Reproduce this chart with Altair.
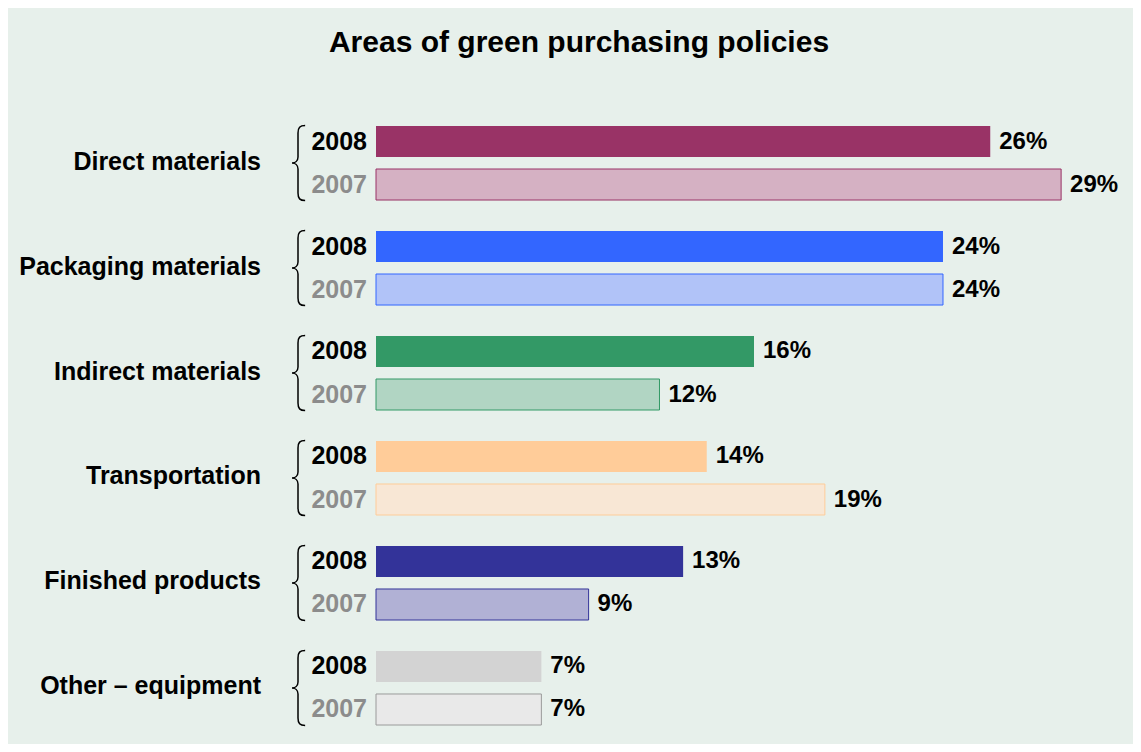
import altair as alt
import pandas as pd

categories = ["Direct materials", "Packaging materials", "Indirect materials",
              "Transportation", "Finished products", "Other – equipment"]
years = ["2008", "2007"]
values_2008 = [26, 24, 16, 14, 13, 7]
values_2007 = [29, 24, 12, 19, 9, 7]

palette = ["#993366", "#3366ff", "#339966", "#ffcc99", "#333399", "#d3d3d3"]
stroke_palette = ["#993366", "#3366ff", "#339966", "#ffcc99", "#333399", "#9a9a9a"]


def mix(hex_color, base=(245, 245, 245), t=0.35):
    h = hex_color.lstrip("#")
    rgb = [int(h[i:i + 2], 16) for i in (0, 2, 4)]
    out = [round(t * c + (1 - t) * b) for c, b in zip(rgb, base)]
    return "#" + "".join(f"{c:02x}" for c in out)


light_palette = [mix(c) for c in palette]

rows = []
for cat, v8, v7 in zip(categories, values_2008, values_2007):
    rows.append({"category": cat, "year": "2008", "value": v8})
    rows.append({"category": cat, "year": "2007", "value": v7})
df = pd.DataFrame(rows)

FONT = "Liberation Sans"

y = alt.Y("category:N", sort=categories,
          scale=alt.Scale(domain=categories, paddingInner=0.295, paddingOuter=0),
          axis=None)
yoff = alt.YOffset("year:N",
                   scale=alt.Scale(domain=years, paddingInner=0.279, paddingOuter=0))
x = alt.X("value:Q", scale=alt.Scale(domain=[0, 31.45]), axis=None)

base = alt.Chart(df)

bars08 = base.transform_filter(alt.datum.year == "2008").mark_bar().encode(
    x=x, y=y, yOffset=yoff,
    color=alt.Color("category:N", scale=alt.Scale(domain=categories, range=palette), legend=None),
)

bars07 = base.transform_filter(alt.datum.year == "2007").mark_bar(strokeWidth=1).encode(
    x=x, y=y, yOffset=yoff,
    fill=alt.Fill("category:N", scale=alt.Scale(domain=categories, range=light_palette), legend=None),
    stroke=alt.Stroke("category:N", scale=alt.Scale(domain=categories, range=stroke_palette), legend=None),
)

value_labels = base.transform_calculate(label="datum.value + '%'").mark_text(
    align="left", baseline="middle", dx=9, fontSize=24, fontWeight="bold", font=FONT, color="#000000"
).encode(x=x, y=y, yOffset=yoff, text="label:N")

year_labels = base.mark_text(
    align="right", baseline="middle", fontSize=25, fontWeight="bold", font=FONT
).encode(
    x=alt.value(-9), y=y, yOffset=yoff, text="year:N",
    color=alt.condition(alt.datum.year == "2008", alt.value("#000000"), alt.value("#8c8c8c")),
)

cat_labels = base.transform_filter(alt.datum.year == "2008").mark_text(
    align="right", baseline="middle", dy=-1.5, fontSize=25, fontWeight="bold", font=FONT,
    color="#000000"
).encode(x=alt.value(-115), y=y, text="category:N")

brace_path = ("M 0.19 -1 C 0.05 -1 0 -0.95 0 -0.8 L 0 -0.16 C 0 -0.05 -0.08 0 -0.16 0 "
              "C -0.08 0 0 0.05 0 0.16 L 0 0.8 C 0 0.95 0.05 1 0.19 1")
braces = base.transform_filter(alt.datum.year == "2008").mark_point(
    shape=brace_path, filled=False, size=5625, strokeWidth=1.5, color="#000000", opacity=1
).encode(x=alt.value(-78), y=y)

chart = alt.layer(bars08, bars07, value_labels, year_labels, cat_labels, braces).properties(
    width=743, height=599,
    title=alt.TitleParams("Areas of green purchasing policies", anchor="start", frame="group",
                          align="center", dx=203, fontSize=30, fontWeight="bold", font=FONT,
                          color="#000000", offset=65),
    autosize=alt.AutoSizeParams(type="none"),
    padding={"left": 368, "top": 118, "right": 14, "bottom": 19},
    background="#e7f0eb",
).configure_view(stroke=None)

chart.save("out.html", embed_options={"renderer": "svg", "actions": False})
